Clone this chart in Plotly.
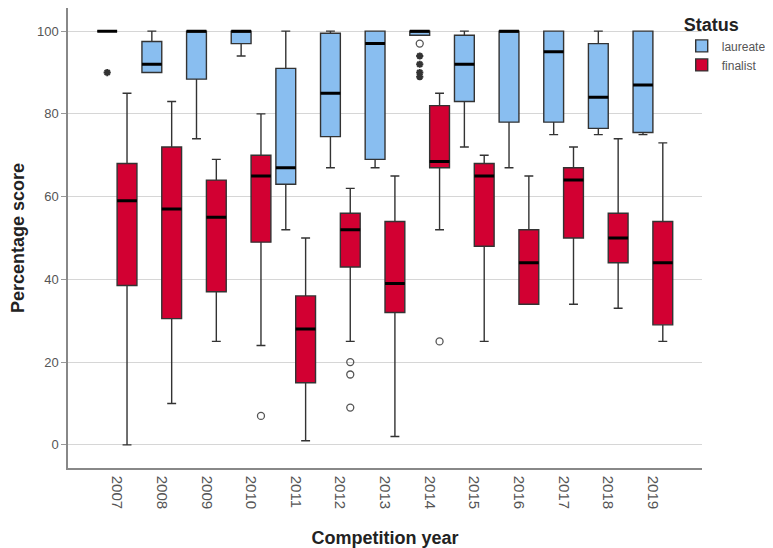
import plotly.graph_objects as go

years = ['2007', '2008', '2009', '2010', '2011', '2012', '2013',
         '2014', '2015', '2016', '2017', '2018', '2019']

# laureate box statistics
lau_min = [100, 90, 74, 94, 52, 67, 67, 99, 72, 67, 75, 75, 75]
lau_q1 = [100, 90, 88.4, 97, 63, 74.5, 69, 99, 83, 78, 78, 76.5, 75.5]
lau_med = [100, 92, 100, 100, 67, 85, 97, 100, 92, 100, 95, 84, 87]
lau_q3 = [100, 97.5, 100, 100, 91, 99.5, 100, 100, 99, 100, 100, 97, 100]
lau_max = [100, 100, 100, 100, 100, 100, 100, 100, 100, 100, 100, 100, 100]

# finalist box statistics
fin_min = [0, 10, 25, 24, 1, 25, 2, 52, 25, 34, 34, 33, 25]
fin_q1 = [38.5, 30.5, 37, 49, 15, 43, 32, 67, 48, 34, 50, 44, 29]
fin_med = [59, 57, 55, 65, 28, 52, 39, 68.5, 65, 44, 64, 50, 44]
fin_q3 = [68, 72, 64, 70, 36, 56, 54, 82, 68, 52, 67, 56, 54]
fin_max = [85, 83, 69, 80, 50, 62, 65, 85, 70, 65, 72, 74, 73]

# outliers (circles) and extreme values (asterisks)
lau_out_years = ['2014']
lau_out_vals = [97]
lau_ext_years = ['2007', '2014', '2014', '2014', '2014']
lau_ext_vals = [90, 94, 92, 90, 89]
fin_out_years = ['2010', '2012', '2012', '2012', '2014']
fin_out_vals = [7, 20, 17, 9, 25]

BLUE = '#89BEF0'
RED = '#D20032'
OFF = 0.222
BW = 0.444

idx = {y: i for i, y in enumerate(years)}

fig = go.Figure()

groups = [
    ('laureate', BLUE, -OFF, lau_min, lau_q1, lau_med, lau_q3, lau_max,
     lau_out_years, lau_out_vals, lau_ext_years, lau_ext_vals),
    ('finalist', RED, OFF, fin_min, fin_q1, fin_med, fin_q3, fin_max,
     fin_out_years, fin_out_vals, [], []),
]

for name, col, off, mn, q1, md, q3, mx, oy, ov, ey, ev in groups:
    xs = [i + off for i in range(len(years))]
    fig.add_trace(go.Box(
        name=name, x=xs, q1=q1, median=md, q3=q3,
        lowerfence=mn, upperfence=mx, width=BW,
        fillcolor=col, line=dict(color='#333333', width=1.4),
        whiskerwidth=0.45, boxpoints=False, hoverinfo='skip',
        showlegend=True,
    ))
    # thick median line
    fig.add_trace(go.Box(
        x=xs, q1=md, median=md, q3=md, lowerfence=md, upperfence=md,
        width=BW, fillcolor='rgba(0,0,0,0)', line=dict(color='#000000', width=3),
        whiskerwidth=0, boxpoints=False, showlegend=False, hoverinfo='skip',
    ))
    if oy:
        fig.add_trace(go.Scatter(
            x=[idx[y] + off for y in oy], y=ov, mode='markers',
            marker=dict(symbol='circle-open', size=7, color='#555555',
                        line=dict(width=1.3)),
            showlegend=False, hoverinfo='skip',
        ))
    if ey:
        fig.add_trace(go.Scatter(
            x=[idx[y] + off for y in ey], y=ev, mode='markers',
            marker=dict(symbol='asterisk-open', size=6, color='#333333',
                        line=dict(width=2, color='#333333')),
            showlegend=False, hoverinfo='skip',
        ))

font_family = 'Liberation Sans, Arial, sans-serif'

# page body has an 8px margin; figure sized to fit the 773x548 window
fig.update_layout(
    width=765, height=540,
    margin=dict(l=60, r=71, t=0, b=80, autoexpand=False),
    paper_bgcolor='white', plot_bgcolor='white',
    font=dict(family=font_family, color='#555555', size=12),
    showlegend=True,
    legend=dict(
        title=dict(text='<b>Status</b>', font=dict(size=18, color='#222222')),
        x=0.968, xanchor='left', y=1.0, yanchor='top',
        font=dict(size=12, color='#555555'),
        itemwidth=30, tracegroupgap=0, bgcolor='rgba(0,0,0,0)',
    ),
    xaxis=dict(
        range=[-1.1, 13.1], tickmode='array',
        tickvals=list(range(len(years))), ticktext=years,
        tickangle=90, showgrid=False, zeroline=False,
        showline=True, linecolor='#888888', linewidth=1.5,
        ticks='', tickfont=dict(size=15, color='#555555'),
        ticklabelstandoff=3,
        automargin=False,
        title=dict(text='<b>Competition year</b>', standoff=24,
                   font=dict(size=18, color='#222222')),
    ),
    yaxis=dict(
        range=[-5.6, 105.6], tickmode='array',
        tickvals=[0, 20, 40, 60, 80, 100],
        showgrid=True, gridcolor='#d6d6d6', gridwidth=1,
        zeroline=False, showline=True, linecolor='#888888', linewidth=1.5,
        ticks='outside', ticklen=5, tickcolor='#999999',
        tickfont=dict(size=13, color='#555555'),
        automargin=False,
        title=dict(text='<b>Percentage score</b>', standoff=8,
                   font=dict(size=18, color='#222222')),
    ),
)

fig.write_html('out.html')
